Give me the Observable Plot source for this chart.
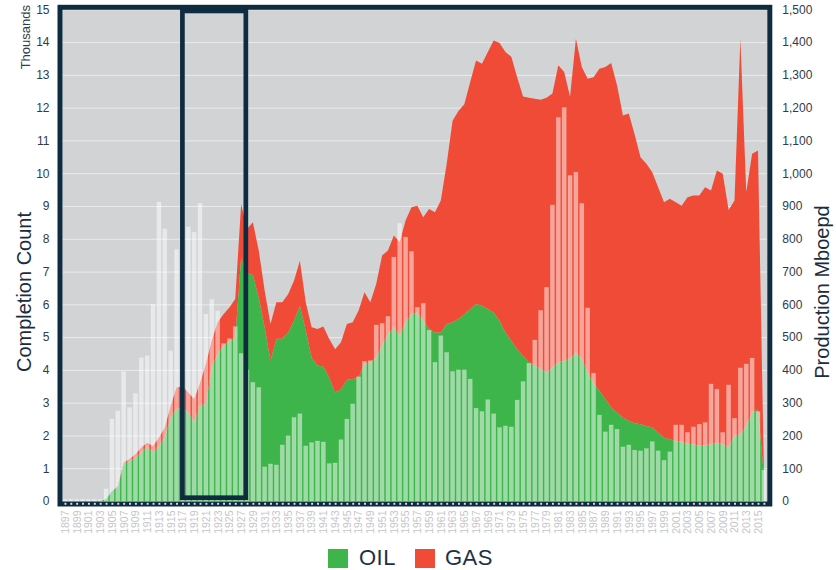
<!DOCTYPE html>
<html><head><meta charset="utf-8">
<script src="https://cdn.jsdelivr.net/npm/d3@7"></script>
<script src="https://cdn.jsdelivr.net/npm/@observablehq/plot@0.6"></script>
<style>
body{margin:0;background:#fff;}
#wrap{position:relative;width:836px;height:570px;font-family:"Liberation Sans",Arial,sans-serif;overflow:hidden;}
#chart{position:absolute;left:0;top:0;}
.lg{position:absolute;}
.sw{position:absolute;top:549px;width:20px;height:19px;}
.lt{position:absolute;top:545px;font-size:22px;color:#1c3145;letter-spacing:0.5px;}
</style></head><body>
<div id="wrap"><div id="chart"></div>
<div class="sw" style="left:328px;background:#3db54a"></div><div class="lt" style="left:359px">OIL</div>
<div class="sw" style="left:415px;background:#ef4b37"></div><div class="lt" style="left:445px">GAS</div>
</div>
<script>
const firstYear = 1897;
// completions, thousands
const completions = [0.05,0.05,0.05,0.05,0.05,0.05,0.05,0.37,2.5,2.75,
3.95,2.85,3.28,4.37,4.43,6.0,9.12,8.3,4.58,7.67,
7.0,8.36,8.2,9.08,5.7,6.15,5.8,4.8,4.95,5.32,
4.5,4.0,3.62,3.46,1.04,1.13,1.1,1.71,1.99,2.55,
2.66,1.68,1.78,1.83,1.8,1.14,1.16,1.87,2.5,2.96,
3.79,4.26,4.28,5.37,5.42,5.63,7.44,8.47,8.05,7.61,
5.91,6.03,5.21,4.23,5.04,4.53,3.95,4.0,4.0,3.72,
2.83,2.73,3.09,2.66,2.24,2.29,2.26,3.08,3.64,4.2,
4.91,5.81,6.52,9.03,11.7,12.0,9.93,10.03,9.08,5.89,
3.9,2.62,2.11,2.32,2.19,1.65,1.71,1.55,1.53,1.6,
1.81,1.53,1.24,1.5,2.32,2.32,2.09,2.26,2.34,2.39,
3.57,3.41,2.09,3.54,2.52,4.06,4.18,4.36,2.73,0.94];
// oil production, Mboepd
const oil = [0,0,0,0,0,0,0,5,30,41,
113,122,131,148,165,148,168,194,255,280,
285,270,240,290,296,407,449,474,487,499,
743,695,690,620,530,428,495,495,514,550,
596,520,438,413,410,377,331,341,370,372,
377,418,423,438,474,509,530,504,545,570,
575,550,525,514,514,540,545,555,570,586,
601,596,586,575,550,514,489,463,443,423,
413,402,392,407,423,428,433,453,433,392,
361,336,311,285,270,255,245,237,234,229,
224,209,193,188,183,181,175,173,168,171,
173,178,173,163,199,204,229,270,280,80];
// gas production, Mboepd
const gas = [0,0,0,0,0,0,0,0,0,4,
4,6,12,15,13,20,25,30,35,66,
65,61,71,70,122,83,96,96,103,117,
162,135,160,144,112,112,111,111,117,122,
137,86,92,112,122,117,132,143,170,173,
204,219,183,224,275,255,280,286,311,326,
326,316,366,367,403,489,615,635,640,692,
743,738,784,830,847,856,866,830,791,807,
814,822,838,836,906,881,800,957,891,896,
932,983,1013,1051,998,921,937,881,815,800,
779,748,718,734,728,720,752,759,764,786,
774,830,825,725,718,1206,713,789,789,20];
const xTickYears = d3.range(1897, 2016, 2);
const highlight = [{start: 1917, end: 1927.8}];

const years = completions.map((_, i) => firstYear + i);
const rows = years.map((year, i) => ({year, completions: completions[i], oil: oil[i], gas: gas[i]}));
const prod = rows.flatMap(r => [
  {year: r.year, type: "OIL", value: r.oil / 100},
  {year: r.year, type: "GAS", value: r.gas / 100}
]);

const navy = "#0f2b40";
const H = 546;
const chart = Plot.plot({
  width: 836, height: H,
  marginLeft: 62, marginRight: 69.2, marginTop: 9.3, marginBottom: H - 501,
  style: {fontFamily: "Liberation Sans, Arial, sans-serif", background: "white"},
  x: {type: "linear", domain: [1896.5, 2016.5]},
  y: {domain: [0, 15]},
  color: {domain: ["OIL", "GAS"], range: ["#3db54a", "#ef4b37"]},
  marks: [
    Plot.frame({fill: "#d1d3d5"}),
    Plot.gridY(d3.range(1, 16), {stroke: "white", strokeOpacity: 0.55, strokeWidth: 1}),
    Plot.areaY(prod, {x: "year", y: "value", fill: "type", order: ["OIL", "GAS"]}),
    Plot.rectY(rows, {x1: d => d.year - 0.5, x2: d => d.year + 0.5, y: "completions",
      fill: "white", fillOpacity: 0.5, stroke: "white", strokeOpacity: 0.25, strokeWidth: 0.6,
      insetLeft: 0.9, insetRight: 0.9}),
    Plot.rect(highlight, {x1: "start", x2: "end", y1: 0.1, y2: 14.95, stroke: navy, strokeWidth: 4.7, fill: "none"}),
    Plot.frame({stroke: navy, strokeWidth: 5, inset: -2.5}),
    Plot.dot(years, {x: d => d, y: 0, dy: 2.3, r: 1.1, symbol: "square", fill: "white", fillOpacity: 0.85}),
    Plot.axisY(d3.range(0, 16), {anchor: "left", tickSize: 0, tickPadding: 13, fontSize: 12, fill: "#2e3c49", label: null}),
    Plot.axisY(d3.range(0, 16), {anchor: "right", tickSize: 0, tickPadding: 15, fontSize: 12, fill: "#2e3c49", label: null,
      tickFormat: d => d3.format(",")(d * 100)}),
    Plot.axisX(xTickYears, {anchor: "bottom", tickRotate: -90, tickSize: 0, tickPadding: 9, fontSize: 10.5,
      fill: "#c4c6c8", tickFormat: d => String(d), label: null})
  ]
});
document.getElementById("chart").appendChild(chart);
const svg = d3.select(chart);
svg.append("text").attr("transform", "translate(30,5) rotate(-90)").attr("text-anchor", "end")
  .attr("font-size", 13).attr("fill", "#2e3c49").text("Thousands");
svg.append("text").attr("transform", "translate(31,292) rotate(-90)").attr("text-anchor", "middle")
  .attr("font-size", 20).attr("fill", "#1b2d3e").text("Completion Count");
svg.append("text").attr("transform", "translate(829,292) rotate(-90)").attr("text-anchor", "middle")
  .attr("font-size", 20).attr("fill", "#1b2d3e").text("Production Mboepd");
</script>
</body></html>
